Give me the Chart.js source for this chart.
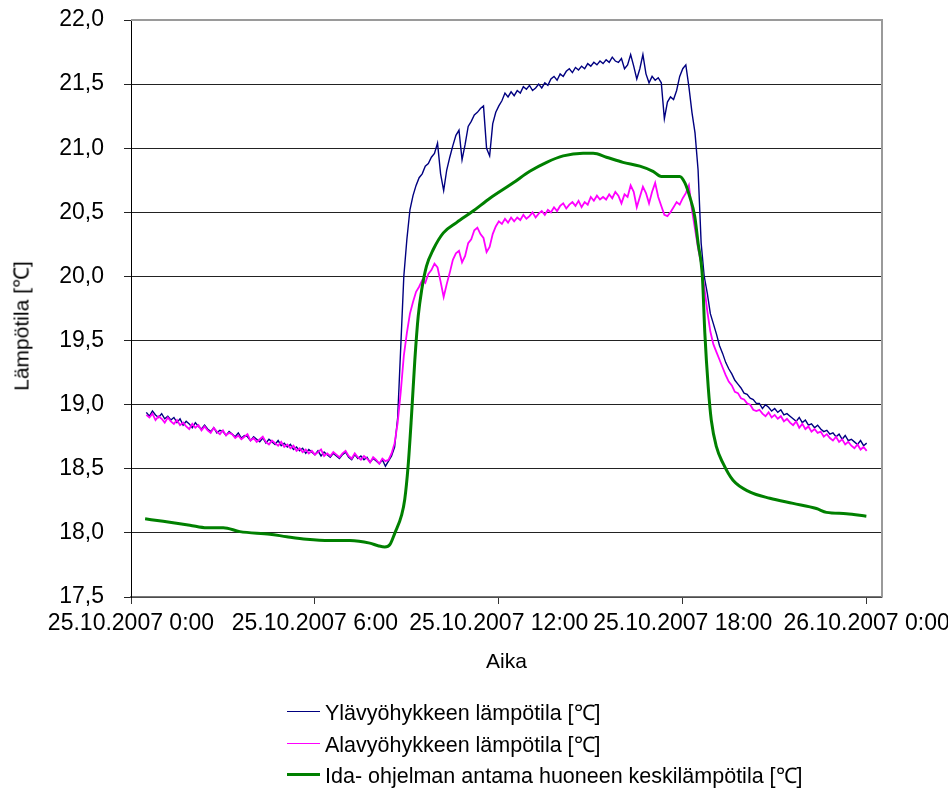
<!DOCTYPE html>
<html>
<head>
<meta charset="utf-8">
<script src="https://cdn.jsdelivr.net/npm/chart.js@4.4.1/dist/chart.umd.min.js"></script>
<style>
html,body{margin:0;padding:0;background:#fff;}
#wrap{position:relative;width:948px;height:789px;overflow:hidden;}
canvas{display:block;}
#legend{position:absolute;left:287px;top:696px;font-family:"Liberation Sans",Arial,sans-serif;font-size:21.5px;color:#000;}
#legend .item{display:flex;align-items:center;height:31.5px;white-space:nowrap;}
#legend .sw{width:33px;margin-right:5px;}
#ytitle{position:absolute;left:21px;top:326px;transform:translate(-50%,-50%) rotate(-90deg);white-space:nowrap;font-family:"Liberation Sans",Arial,sans-serif;font-size:21px;color:#000;line-height:1;}
</style>
</head>
<body>
<div id="wrap">
<canvas id="c" width="948" height="789"></canvas>
<div id="ytitle"></div>
<div id="legend"></div>
</div>
<script>
// ---- data (hours from 25.10.2007 0:00) ----
const sensorHours = [
0.5,0.6,0.7,0.8,0.9,1.0,1.1,1.2,1.3,1.4,
1.5,1.6,1.7,1.8,1.9,2.0,2.1,2.2,2.3,2.4,
2.5,2.6,2.7,2.8,2.9,3.0,3.1,3.2,3.3,3.4,
3.5,3.6,3.7,3.8,3.9,4.0,4.1,4.2,4.3,4.4,
4.5,4.6,4.7,4.8,4.9,5.0,5.1,5.2,5.3,5.4,
5.5,5.6,5.7,5.8,5.9,6.0,6.1,6.2,6.3,6.4,
6.5,6.6,6.7,6.8,6.9,7.0,7.1,7.2,7.3,7.4,
7.5,7.6,7.7,7.8,7.9,8.0,8.1,8.2,8.3,8.4,
8.5,8.6,8.7,8.8,8.9,9.0,9.1,9.2,9.3,9.4,
9.5,9.6,9.7,9.8,9.9,10.0,10.1,10.2,10.3,10.4,
10.5,10.6,10.7,10.8,10.9,11.0,11.1,11.2,11.3,11.4,
11.5,11.6,11.7,11.8,11.9,12.0,12.1,12.2,12.3,12.4,
12.5,12.6,12.7,12.8,12.9,13.0,13.1,13.2,13.3,13.4,
13.5,13.6,13.7,13.8,13.9,14.0,14.1,14.2,14.3,14.4,
14.5,14.6,14.7,14.8,14.9,15.0,15.1,15.2,15.3,15.4,
15.5,15.6,15.7,15.8,15.9,16.0,16.1,16.2,16.3,16.4,
16.5,16.6,16.7,16.8,16.9,17.0,17.1,17.2,17.3,17.4,
17.5,17.6,17.7,17.8,17.9,18.0,18.1,18.2,18.3,18.4,
18.5,18.6,18.7,18.8,18.9,19.0,19.1,19.2,19.3,19.4,
19.5,19.6,19.7,19.8,19.9,20.0,20.1,20.2,20.3,20.4,
20.5,20.6,20.7,20.8,20.9,21.0,21.1,21.2,21.3,21.4,
21.5,21.6,21.7,21.8,21.9,22.0,22.1,22.2,22.3,22.4,
22.5,22.6,22.7,22.8,22.9,23.0,23.1,23.2,23.3,23.4,
23.5,23.6,23.7,23.8,23.9,24.0];

const upperZoneTemp = [
18.94,18.91,18.95,18.92,18.90,18.93,18.89,18.91,18.88,18.90,
18.86,18.89,18.84,18.87,18.85,18.82,18.86,18.83,18.81,18.84,
18.81,18.79,18.82,18.78,18.80,18.79,18.76,18.79,18.77,18.75,
18.78,18.74,18.76,18.75,18.72,18.75,18.73,18.71,18.74,18.70,
18.73,18.71,18.69,18.72,18.68,18.70,18.67,18.69,18.65,18.67,
18.64,18.66,18.62,18.65,18.63,18.61,18.64,18.60,18.63,18.61,
18.59,18.62,18.60,18.58,18.61,18.63,18.59,18.57,18.61,18.58,
18.60,18.57,18.59,18.55,18.58,18.56,18.54,18.57,18.52,18.56,
18.60,18.67,18.90,19.45,20.00,20.29,20.52,20.63,20.71,20.77,
20.80,20.86,20.88,20.93,20.96,21.04,20.80,20.67,20.83,20.93,
21.02,21.10,21.14,20.91,21.03,21.17,21.21,21.26,21.28,21.31,
21.33,21.00,20.94,21.19,21.28,21.33,21.37,21.43,21.40,21.44,
21.41,21.45,21.43,21.48,21.46,21.49,21.45,21.47,21.50,21.47,
21.51,21.49,21.54,21.56,21.53,21.58,21.56,21.60,21.62,21.59,
21.63,21.61,21.64,21.62,21.66,21.64,21.67,21.65,21.68,21.66,
21.69,21.67,21.71,21.68,21.67,21.70,21.62,21.65,21.73,21.64,
21.54,21.62,21.73,21.58,21.51,21.56,21.53,21.55,21.51,21.23,
21.36,21.40,21.38,21.45,21.56,21.62,21.65,21.48,21.28,21.12,
20.83,20.26,20.00,19.87,19.71,19.63,19.55,19.46,19.40,19.33,
19.28,19.24,19.19,19.16,19.13,19.09,19.08,19.05,19.04,19.01,
19.01,18.97,19.00,18.98,18.95,18.97,18.94,18.96,18.92,18.93,
18.91,18.89,18.87,18.90,18.86,18.88,18.84,18.85,18.82,18.84,
18.81,18.79,18.80,18.77,18.78,18.75,18.77,18.73,18.76,18.72,
18.73,18.71,18.69,18.72,18.68,18.70];

const lowerZoneTemp = [
18.92,18.90,18.93,18.88,18.91,18.89,18.86,18.90,18.87,18.85,
18.88,18.84,18.86,18.83,18.81,18.85,18.82,18.84,18.80,18.83,
18.80,18.78,18.82,18.79,18.77,18.80,18.76,18.78,18.77,18.74,
18.76,18.73,18.75,18.77,18.72,18.74,18.71,18.73,18.75,18.71,
18.69,18.72,18.70,18.68,18.71,18.67,18.69,18.66,18.68,18.64,
18.66,18.63,18.65,18.62,18.64,18.61,18.63,18.65,18.60,18.62,
18.60,18.63,18.61,18.59,18.62,18.64,18.60,18.58,18.62,18.59,
18.57,18.60,18.58,18.55,18.59,18.57,18.54,18.58,18.56,18.57,
18.62,18.70,18.86,19.10,19.38,19.56,19.71,19.80,19.88,19.92,
19.97,19.95,20.02,20.05,20.10,20.07,19.96,19.84,19.94,20.03,
20.13,20.18,20.20,20.11,20.16,20.26,20.29,20.36,20.38,20.33,
20.30,20.19,20.23,20.33,20.39,20.43,20.41,20.45,20.42,20.46,
20.43,20.46,20.44,20.48,20.45,20.47,20.50,20.46,20.49,20.51,
20.48,20.52,20.50,20.54,20.51,20.55,20.57,20.53,20.56,20.58,
20.55,20.59,20.54,20.58,20.56,20.62,20.59,20.63,20.60,20.62,
20.60,20.64,20.61,20.66,20.63,20.57,20.64,20.62,20.71,20.66,
20.54,20.62,20.70,20.65,20.57,20.66,20.73,20.62,20.55,20.48,
20.47,20.50,20.54,20.58,20.56,20.61,20.65,20.71,20.52,20.37,
20.22,20.10,19.92,19.73,19.57,19.47,19.41,19.35,19.29,19.23,
19.18,19.15,19.10,19.09,19.05,19.04,19.01,19.00,18.96,18.95,
18.96,18.93,18.91,18.94,18.90,18.92,18.89,18.91,18.87,18.89,
18.86,18.84,18.87,18.82,18.85,18.81,18.83,18.79,18.81,18.78,
18.79,18.75,18.77,18.74,18.72,18.75,18.71,18.73,18.69,18.71,
18.68,18.66,18.69,18.65,18.67,18.64];

const idaHours = [
0.46,1.05,1.92,2.47,3.01,3.55,4.53,5.08,5.73,6.49,
7.14,7.79,8.06,8.28,8.45,8.61,8.83,8.93,9.04,9.15,
9.26,9.37,9.48,9.64,9.86,10.19,10.62,11.16,11.71,12.47,
13.01,13.56,14.1,14.75,15.08,15.51,16.05,16.6,17.03,17.3,
17.58,17.9,18.07,18.23,18.39,18.5,18.64,18.72,18.83,18.93,
19.1,19.32,19.64,20.18,20.84,21.6,22.36,22.69,23.34,23.99];

const idaTemp = [
18.11,18.09,18.06,18.04,18.04,18.01,17.99,17.97,17.95,17.94,
17.94,17.92,17.90,17.89,17.91,18.00,18.14,18.26,18.52,18.91,
19.35,19.69,19.89,20.08,20.21,20.34,20.42,20.51,20.61,20.73,
20.82,20.89,20.94,20.96,20.96,20.93,20.89,20.86,20.82,20.78,
20.78,20.78,20.73,20.62,20.47,20.26,20.00,19.56,19.14,18.88,
18.67,18.54,18.41,18.32,18.27,18.23,18.19,18.16,18.15,18.13];

const seriesNames = [
  'Ylävyöhykkeen lämpötila [℃]',
  'Alavyöhykkeen lämpötila [℃]',
  'Ida- ohjelman antama huoneen keskilämpötila [℃]'
];
const xTickHours = [0, 6, 12, 18, 24];
const xTickLabels = ['25.10.2007 0:00','25.10.2007 6:00','25.10.2007 12:00','25.10.2007 18:00','26.10.2007 0:00'];
const yTickValues = [17.5,18.0,18.5,19.0,19.5,20.0,20.5,21.0,21.5,22.0];
const yTickLabels = ['17,5','18,0','18,5','19,0','19,5','20,0','20,5','21,0','21,5','22,0'];
const xTitle = 'Aika';
const yTitle = 'Lämpötila [℃]';

// ---- chart ----
const FONT = '"Liberation Sans", Arial, sans-serif';
const toXY = (xs, ys) => xs.map((x, i) => ({x: x, y: ys[i]}));

const frame = {
  id: 'frame',
  beforeDatasetsDraw(chart) {
    const {ctx, chartArea: a} = chart;
    ctx.save();
    ctx.strokeStyle = '#9a9a9a';
    ctx.lineWidth = 2;
    ctx.beginPath();
    ctx.moveTo(a.left, a.top);
    ctx.lineTo(a.right, a.top);
    ctx.lineTo(a.right, a.bottom);
    ctx.stroke();
    ctx.restore();
  }
};

const chart = new Chart(document.getElementById('c'), {
  type: 'line',
  data: {
    datasets: [
      {label: seriesNames[0], data: toXY(sensorHours, upperZoneTemp), borderColor: '#000080', borderWidth: 1.4, pointRadius: 0, tension: 0, order: 3},
      {label: seriesNames[1], data: toXY(sensorHours, lowerZoneTemp), borderColor: '#FF00FF', borderWidth: 1.8, pointRadius: 0, tension: 0, order: 2},
      {label: seriesNames[2], data: toXY(idaHours, idaTemp), borderColor: '#008000', borderWidth: 3, pointRadius: 0, cubicInterpolationMode: 'monotone', order: 1}
    ]
  },
  options: {
    responsive: false,
    animation: false,
    events: [],
    layout: {padding: {top: 20, right: 66, bottom: 112, left: 0}},
    plugins: {legend: {display: false}, tooltip: {enabled: false}},
    scales: {
      x: {
        type: 'linear', min: 0, max: 24.5,
        afterBuildTicks: s => { s.ticks = xTickHours.map(v => ({value: v})); },
        afterFit: s => { s.height = 80; s.paddingLeft = 0; s.paddingRight = 0; },
        ticks: {
          autoSkip: false, maxRotation: 0, padding: 6, color: '#000',
          font: {family: FONT, size: 23},
          callback: (v) => xTickLabels[xTickHours.indexOf(v)]
        },
        grid: {drawOnChartArea: false, drawTicks: true, tickLength: 7, color: '#333', lineWidth: 1},
        border: {color: '#777', width: 1.5},
        title: {display: true, text: xTitle, color: '#000', font: {family: FONT, size: 21}, padding: {top: 0, bottom: 2}}
      },
      y: {
        min: 17.5, max: 22,
        afterBuildTicks: s => { s.ticks = yTickValues.map(v => ({value: v})); },
        afterFit: s => { s.width = 131; s.paddingTop = 0; s.paddingBottom = 0; },
        ticks: {
          padding: 20, color: '#000',
          font: {family: FONT, size: 23},
          callback: (v) => yTickLabels[yTickValues.indexOf(v)]
        },
        grid: {color: '#222', lineWidth: 1, tickLength: 7},
        border: {color: '#000', width: 1},
        title: {display: false, text: yTitle}
      }
    }
  },
  plugins: [frame]
});

// ---- y axis title (from the scale's title option) ----
document.getElementById('ytitle').textContent = chart.options.scales.y.title.text;

// ---- legend (built from the chart's datasets) ----
const leg = document.getElementById('legend');
chart.data.datasets.forEach(ds => {
  const item = document.createElement('div');
  item.className = 'item';
  const sw = document.createElement('span');
  sw.className = 'sw';
  sw.style.borderTop = (ds.borderWidth > 2 ? 3 : 1.5) + 'px solid ' + ds.borderColor;
  const tx = document.createElement('span');
  tx.textContent = ds.label;
  item.appendChild(sw);
  item.appendChild(tx);
  leg.appendChild(item);
});
</script>
</body>
</html>
